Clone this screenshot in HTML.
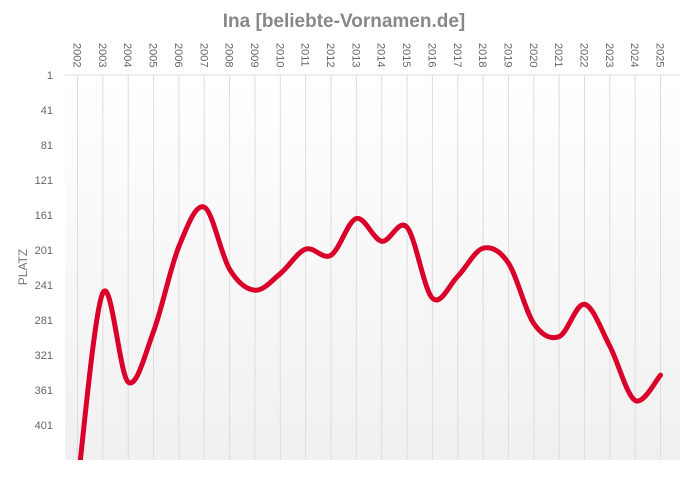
<!DOCTYPE html>
<html><head><meta charset="utf-8"><style>
body{margin:0;background:#fff;font-family:"Liberation Sans",sans-serif}
</style></head><body>
<svg id="chart" width="689" height="474">
<defs><linearGradient id="bg" x1="0" y1="0" x2="0" y2="1"><stop offset="0" stop-color="#ffffff"/><stop offset="1" stop-color="#f0f0f0"/></linearGradient>
<clipPath id="clip"><rect x="65" y="60" width="615" height="400"/></clipPath></defs>
<rect x="65" y="75" width="615" height="385" fill="url(#bg)"/>
<text x="344" y="27" text-anchor="middle" font-size="19" font-weight="bold" fill="#888">Ina [beliebte-Vornamen.de]</text>
<text transform="translate(27,267) rotate(-90)" text-anchor="middle" font-size="12" fill="#777">PLATZ</text>
<g id="grid"></g><g id="lines"></g>
</svg>
<script>
const years=["2002","2003","2004","2005","2006","2007","2008","2009","2010","2011","2012","2013","2014","2015","2016","2017","2018","2019","2020","2021","2022","2023","2024","2025"];
const ranks=[470,250,352,294,197,152,223,247,228,200,207,165,191,175,256,231,199,216,285,300,263,311,373,344];
const yTicks=[1,41,81,121,161,201,241,281,321,361,401];
const NS="http://www.w3.org/2000/svg";
const xs=i=>77.5+i*25.35;
const ys=r=>75+(r-1)*0.875;
const g=document.getElementById('grid');
function mk(t,a,p){const e=document.createElementNS(NS,t);for(const k in a)e.setAttribute(k,a[k]);p.appendChild(e);return e;}
const topLine=mk('line',{x1:65,x2:680,y1:75,y2:75,stroke:'#ddd'},g);


years.forEach((yr,i)=>{
 const l=mk('line',{x1:xs(i),x2:xs(i),y1:75,y2:460,stroke:'#ddd'},g);
 
 
 const t=mk('text',{transform:`translate(${xs(i)-4},43) rotate(90)`,'font-size':'11',fill:'#666'},g);
 t.textContent=yr;
 
 
});
yTicks.forEach(v=>{
 const t=mk('text',{x:53,y:ys(v)+4,'text-anchor':'end','font-size':'11',fill:'#666'},g);
 t.textContent=v;
 
 
});
const pts=ranks.map((r,i)=>[xs(i),ys(r)]);
let d=`M${pts[0][0]},${pts[0][1]}`;
for(let i=0;i<pts.length-1;i++){
 const p0=pts[Math.max(0,i-1)],p1=pts[i],p2=pts[i+1],p3=pts[Math.min(pts.length-1,i+2)];
 const c1=[p1[0]+(p2[0]-p0[0])/6,p1[1]+(p2[1]-p0[1])/6];
 const c2=[p2[0]-(p3[0]-p1[0])/6,p2[1]-(p3[1]-p1[1])/6];
 d+=` C${c1[0]},${c1[1]} ${c2[0]},${c2[1]} ${p2[0]},${p2[1]}`;
}
const path=mk('path',{d:d,fill:'none',stroke:'#d9002a','stroke-width':'5','stroke-linejoin':'round','stroke-linecap':'round','clip-path':'url(#clip)'},document.getElementById('lines'));


</script>
</body></html>
